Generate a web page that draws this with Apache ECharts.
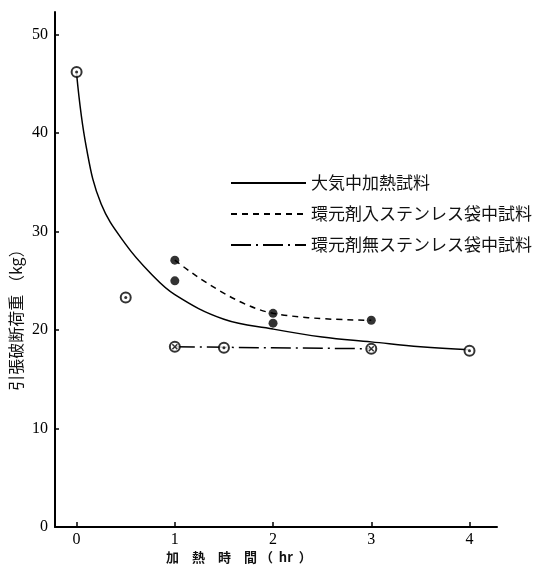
<!DOCTYPE html>
<html><head><meta charset="utf-8">
<script src="https://cdn.jsdelivr.net/npm/echarts@6/dist/echarts.min.js"></script>
<style>html,body{margin:0;padding:0;background:#fff}#c{width:538px;height:567px}</style>
</head><body><div id="c"></div>
<script>
const xTicks = [0, 1, 2, 3, 4];
const yTicks = [0, 10, 20, 30, 40, 50];
const seriesNames = ['大気中加熱試料', '環元剤入ステンレス袋中試料', '環元剤無ステンレス袋中試料'];
const xName = '加　熱　時　間 （  hr  ）';
const yName = '引張破断荷重 （kg）';
// fitted curve (air heating)
const airCurveX = [0, 0.1, 0.25, 0.5, 0.75, 1, 1.5, 2, 2.5, 3, 3.5, 4];
const airCurveY = [46.0, 38.5, 32.8, 28.7, 25.8, 23.6, 21.1, 20.1, 19.3, 18.8, 18.3, 18.0];
// dashed curve (with reducing agent)
const redCurveX = [1, 2, 3];
const redCurveY = [27.1, 21.7, 21.0];
// dash-dot line (without reducing agent)
const noRedLineX = [1, 3];
const noRedLineY = [18.3, 18.1];
// measured points
const circleDotX = [0, 0.5, 1.5, 4];
const circleDotY = [46.2, 23.3, 18.2, 17.9];
const filledX = [1, 1, 2, 2, 3];
const filledY = [27.1, 25.0, 21.7, 20.7, 21.0];
const crossedX = [1, 3];
const crossedY = [18.3, 18.1];

const zip = (a, b) => a.map((v, i) => [v, b[i]]);
const serif = '"Liberation Serif", "DejaVu Serif", serif';
const jp = '"Noto Sans CJK JP", sans-serif';

const chart = echarts.init(document.getElementById('c'));
chart.setOption({
  animation: false,
  backgroundColor: '#fff',
  grid: { left: 55, right: 41, top: 12, bottom: 40 },
  legend: {
    data: seriesNames,
    orient: 'vertical',
    left: 230, top: 174, padding: 0,
    itemWidth: 75, itemHeight: 14, itemGap: 13,
    selectedMode: false,
    itemStyle: { color: 'rgba(0,0,0,0)', borderWidth: 0 },
    textStyle: { fontFamily: jp, fontSize: 17, color: '#111', lineHeight: 18 }
  },
  xAxis: {
    type: 'value', min: -0.22, max: 4.28,
    splitLine: { show: false },
    axisLine: { onZero: false, lineStyle: { color: '#000', width: 2 } },
    axisTick: { inside: true, length: 5, customValues: xTicks, lineStyle: { color: '#000', width: 1.5 } },
    axisLabel: { customValues: xTicks, color: '#000', fontFamily: serif, fontSize: 16, margin: 5 }
  },
  yAxis: {
    type: 'value', min: 0, max: 52.3,
    splitLine: { show: false },
    axisLine: { onZero: false, lineStyle: { color: '#000', width: 2 } },
    axisTick: { inside: true, length: 4, customValues: yTicks, lineStyle: { color: '#000', width: 1.5 } },
    axisLabel: { customValues: yTicks, color: '#000', fontFamily: serif, fontSize: 16, margin: 7 }
  },
  graphic: [
    { type: 'text', left: 166, top: 551,
      style: { text: xName, fontFamily: jp, fontSize: 13, fontWeight: 'bold', fill: '#111' } },
    { type: 'text', x: 16, y: 316, rotation: Math.PI / 2,
      style: { text: yName, fontFamily: jp, fontSize: 16, fill: '#111', align: 'center', verticalAlign: 'middle' } }
  ],
  series: [
    { name: seriesNames[0], type: 'line', smooth: 0.4, symbol: 'none',
      data: zip(airCurveX, airCurveY), lineStyle: { color: '#000', width: 1.5 }, itemStyle: { color: '#000' }, z: 2 },
    { name: seriesNames[1], type: 'line', smooth: 0.4, symbol: 'none',
      data: zip(redCurveX, redCurveY), lineStyle: { color: '#000', width: 1.5, type: [6, 5] }, itemStyle: { color: '#000' }, z: 2 },
    { name: seriesNames[2], type: 'line', symbol: 'none',
      data: zip(noRedLineX, noRedLineY), lineStyle: { color: '#000', width: 1.5, type: [20, 5, 2, 5] }, itemStyle: { color: '#000' }, z: 2 },
    { name: 'circleDot', type: 'scatter', symbol: 'emptyCircle', symbolSize: 10,
      data: zip(circleDotX, circleDotY), itemStyle: { color: '#000', borderColor: '#000', borderWidth: 1.8 }, z: 5 },
    { name: 'circleDotCenter', type: 'scatter', symbol: 'circle', symbolSize: 3,
      data: zip(circleDotX, circleDotY), itemStyle: { color: '#000' }, z: 6 },
    { name: 'filled', type: 'scatter', symbol: 'circle', symbolSize: 9,
      data: zip(filledX, filledY), itemStyle: { color: '#000' }, z: 5 },
    { name: 'crossed', type: 'scatter', symbol: 'emptyCircle', symbolSize: 10,
      data: zip(crossedX, crossedY), itemStyle: { color: '#000', borderColor: '#000', borderWidth: 2.5 }, z: 5 },
    { name: 'crossedCenter', type: 'scatter', symbol: 'path://M0,0L10,10M10,0L0,10', symbolSize: 5,
      data: zip(crossedX, crossedY), itemStyle: { color: '#000', borderColor: '#000', borderWidth: 1.5 }, z: 6 }
  ]
});
</script></body></html>
